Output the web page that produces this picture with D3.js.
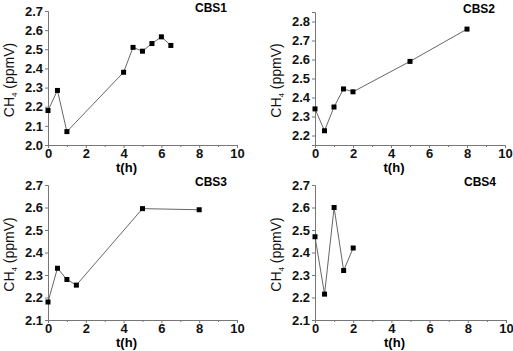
<!DOCTYPE html>
<html><head><meta charset="utf-8">
<script src="https://cdn.jsdelivr.net/npm/d3@7"></script>
<style>
body{margin:0;background:#fff;}
svg{display:block;font-family:"Liberation Sans",Arial,sans-serif;}
</style></head>
<body>
<svg id="c" width="513" height="351"></svg>
<script>
// ---- data ----
const cbs1T = [0, 0.5, 1, 4, 4.5, 5, 5.5, 6, 6.5];
const cbs1V = [2.18, 2.285, 2.07, 2.38, 2.51, 2.49, 2.53, 2.565, 2.52];
const cbs2T = [0, 0.5, 1, 1.5, 2, 5, 8];
const cbs2V = [2.34, 2.225, 2.35, 2.445, 2.43, 2.59, 2.76];
const cbs3T = [0, 0.5, 1, 1.5, 5, 8];
const cbs3V = [2.18, 2.33, 2.28, 2.255, 2.595, 2.59];
const cbs4T = [0, 0.5, 1, 1.5, 2];
const cbs4V = [2.47, 2.215, 2.60, 2.32, 2.42];
const xTicks = [0, 2, 4, 6, 8, 10];
const yTicks1 = [2.0, 2.1, 2.2, 2.3, 2.4, 2.5, 2.6, 2.7];
const yTicks2 = [2.2, 2.3, 2.4, 2.5, 2.6, 2.7, 2.8];
const yTicks34 = [2.1, 2.2, 2.3, 2.4, 2.5, 2.6, 2.7];
const titles = ["CBS1", "CBS2", "CBS3", "CBS4"];

const panels = [
  {t: cbs1T, v: cbs1V, yd: [2.0, 2.7], yt: yTicks1, x0: 48, x1: 237, y0: 145, y1: 11, title: titles[0]},
  {t: cbs2T, v: cbs2V, yd: [2.15, 2.85], yt: yTicks2, x0: 315, x1: 505, y0: 145, y1: 12, title: titles[1]},
  {t: cbs3T, v: cbs3V, yd: [2.1, 2.7], yt: yTicks34, x0: 48, x1: 237, y0: 320, y1: 185, title: titles[2]},
  {t: cbs4T, v: cbs4V, yd: [2.1, 2.7], yt: yTicks34, x0: 315, x1: 506, y0: 320, y1: 185, title: titles[3]}
];

const svg = d3.select("#c");
panels.forEach(p => {
  const x = d3.scaleLinear().domain([0, 10]).range([p.x0, p.x1]);
  const y = d3.scaleLinear().domain(p.yd).range([p.y0, p.y1]);
  const g = svg.append("g");

  // x axis
  g.append("g").attr("transform", `translate(0,${p.y0})`)
    .call(d3.axisBottom(x).tickValues(xTicks).tickFormat(d3.format("d")).tickSize(3).tickPadding(1));
  g.append("g").attr("transform", `translate(0,${p.y0})`)
    .call(d3.axisBottom(x).tickValues([1,3,5,7,9]).tickFormat("").tickSize(2))
    .select(".domain").remove();
  // y axis
  g.append("g").attr("transform", `translate(${p.x0},0)`)
    .call(d3.axisLeft(y).tickValues(p.yt).tickFormat(d3.format(".1f")).tickSize(3).tickPadding(2));
  g.selectAll(".domain").attr("stroke", "#777").attr("stroke-width", 1);
  g.selectAll(".tick line").attr("stroke", "#777");
  g.selectAll(".tick text").attr("font-size", 13).attr("font-weight", "bold").attr("fill", "#111")
    .attr("font-family", "Liberation Sans, Arial, sans-serif");

  // line
  const pts = p.t.map((d, i) => [d, p.v[i]]);
  g.append("path").datum(pts)
    .attr("fill", "none").attr("stroke", "#555").attr("stroke-width", 0.9)
    .attr("d", d3.line().x(d => x(d[0])).y(d => y(d[1])));
  g.selectAll("rect.m").data(pts).enter().append("rect").attr("class", "m")
    .attr("x", d => x(d[0]) - 2.5).attr("y", d => y(d[1]) - 2.5)
    .attr("width", 5).attr("height", 5).attr("fill", "#000");

  // labels
  g.append("text").attr("x", (p.x0 + p.x1) / 2 - 16).attr("y", p.y0 + 27)
    .attr("text-anchor", "middle").attr("font-size", 13).attr("font-weight", "bold").text("t(h)");
  const yl = g.append("text")
    .attr("transform", `translate(${p.x0 - 34},${(p.y0 + p.y1) / 2 + 2}) rotate(-90)`)
    .attr("text-anchor", "middle").attr("font-size", 14).attr("fill", "#111");
  yl.append("tspan").text("CH");
  yl.append("tspan").attr("font-size", 8).attr("dy", 3).text("4");
  yl.append("tspan").attr("dy", -3).text(" (ppmV)");
  g.append("text").attr("x", p.x1 - 10).attr("y", p.y1 + 1)
    .attr("text-anchor", "end").attr("font-size", 12).attr("font-weight", "bold").text(p.title);
});
</script>
</body></html>
